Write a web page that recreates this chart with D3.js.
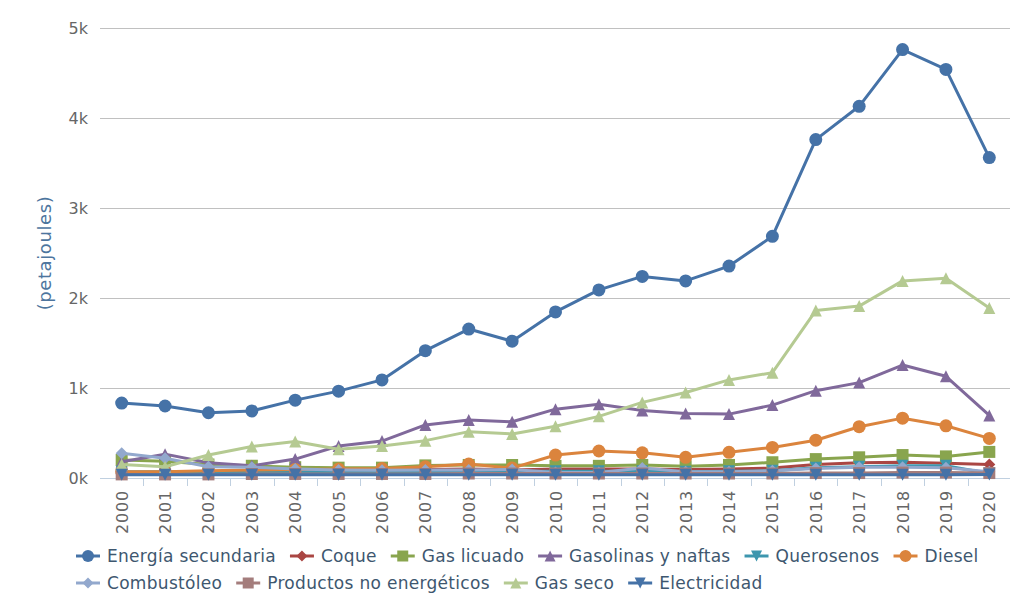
<!DOCTYPE html>
<html><head><meta charset="utf-8">
<script src="https://cdn.jsdelivr.net/npm/d3@7"></script>
<style>
html,body{margin:0;padding:0;background:#fff;}
svg{display:block;font-family:"DejaVu Sans",sans-serif;}
</style></head>
<body><svg id="c" width="1010" height="594"></svg>
<script>
const years = ["2000","2001","2002","2003","2004","2005","2006","2007","2008","2009","2010","2011","2012","2013","2014","2015","2016","2017","2018","2019","2020"];
const yTicks = [0,1000,2000,3000,4000,5000];
const yTickLabels = ["0k","1k","2k","3k","4k","5k"];
const yTitle = "(petajoules)";
const seriesNames = ["Energía secundaria","Coque","Gas licuado","Gasolinas y naftas","Querosenos","Diesel","Combustóleo","Productos no energéticos","Gas seco","Electricidad"];
const energiaSecundaria = [832,800,725,745,865,965,1090,1415,1655,1520,1845,2090,2240,2190,2355,2685,3760,4130,4760,4540,3560];
const coque = [50,50,60,85,90,90,90,95,100,90,100,100,100,95,100,110,150,170,175,165,150];
const gasLicuado = [200,185,150,135,120,115,115,140,145,145,135,135,145,130,145,175,210,230,255,240,290];
const gasolinas = [180,265,170,135,210,355,410,590,645,625,765,820,750,718,710,810,970,1060,1255,1130,695];
const querosenos = [70,70,70,70,70,70,70,70,75,75,75,75,75,70,75,80,115,125,135,135,50];
const diesel = [70,70,80,90,95,100,105,125,155,110,255,300,280,230,285,340,420,570,665,580,440];
const combustoleo = [275,220,125,120,100,90,85,90,90,95,60,60,110,70,70,80,105,120,120,115,70];
const productosNoEnergeticos = [40,40,40,45,45,45,45,45,50,50,50,50,50,50,50,50,55,55,60,60,55];
const gasSeco = [150,125,255,350,405,320,355,415,515,490,575,685,840,950,1090,1170,1860,1910,2190,2220,1890];
const electricidad = [35,35,35,35,35,35,35,35,35,35,35,35,35,35,35,35,35,35,35,35,40];
const seriesValues = [energiaSecundaria,coque,gasLicuado,gasolinas,querosenos,diesel,combustoleo,productosNoEnergeticos,gasSeco,electricidad];

const colors = ["#4572A7","#AA4643","#89A54E","#80699B","#3D96AE","#DB843D","#92A8CD","#A47D7C","#B5CA92","#4572A7"];
const symbols = ["circle","diamond","square","triangle","triangle-down","circle","diamond","square","triangle","triangle-down"];

const svg = d3.select("#c");
const L = 100, R = 1011, T = 28, B = 478;
const x = d3.scaleBand().domain(years).range([L, R]).padding(0);
const y = d3.scaleLinear().domain([0, 5000]).range([B, T]);

function sym(type, cx, cy, r) {
  if (type === "circle") return `M${cx - r},${cy}a${r},${r} 0 1,0 ${2*r},0a${r},${r} 0 1,0 ${-2*r},0Z`;
  if (type === "square") return `M${cx - r},${cy - r}h${2*r}v${2*r}h${-2*r}Z`;
  if (type === "diamond") return `M${cx},${cy - r}L${cx + r},${cy}L${cx},${cy + r}L${cx - r},${cy}Z`;
  if (type === "triangle") return `M${cx},${cy - r}L${cx + r},${cy + r}L${cx - r},${cy + r}Z`;
  return `M${cx - r},${cy - r}L${cx + r},${cy - r}L${cx},${cy + r}Z`;
}

// gridlines
svg.append("g").selectAll("line").data(yTicks.filter(d => d > 0)).join("line")
  .attr("x1", L).attr("x2", R - 1).attr("y1", d => Math.round(y(d)) + 0.5).attr("y2", d => Math.round(y(d)) + 0.5)
  .attr("stroke", "#C0C0C0").attr("stroke-width", 1);

// y labels
svg.append("g").selectAll("text").data(yTicks).join("text")
  .attr("x", 88).attr("y", d => y(d) + 6).attr("text-anchor", "end")
  .attr("fill", "#666").attr("font-size", 16).text((d, i) => yTickLabels[i]);

// y title
svg.append("text").attr("transform", `translate(51,${(T + B) / 2}) rotate(-90)`)
  .attr("text-anchor", "middle").attr("fill", "#4d759e").attr("font-size", 18)
  .attr("letter-spacing", 0.6).text(yTitle);

// x axis line and ticks
svg.append("line").attr("x1", L).attr("x2", R - 1).attr("y1", B + 0.5).attr("y2", B + 0.5)
  .attr("stroke", "#C0D0E0").attr("stroke-width", 1);
const bounds = years.slice(1).map(yr => x(yr));
svg.append("g").selectAll("line").data(bounds).join("line")
  .attr("x1", d => Math.round(d) + 0.5).attr("x2", d => Math.round(d) + 0.5).attr("y1", B).attr("y2", B + 8)
  .attr("stroke", "#C0D0E0").attr("stroke-width", 1);

// x labels
svg.append("g").selectAll("text").data(years).join("text")
  .attr("transform", d => `translate(${x(d) + x.bandwidth() / 2 + 6},490) rotate(-90)`)
  .attr("text-anchor", "end").attr("fill", "#666").attr("font-size", 16)
  .attr("letter-spacing", 0.8).text(d => d);

// series
const line = d3.line().x((d, i) => x(years[i]) + x.bandwidth() / 2).y(d => y(d));
seriesValues.forEach((vals, si) => {
  const g = svg.append("g");
  g.append("path").attr("d", line(vals)).attr("fill", "none").attr("stroke", colors[si])
    .attr("stroke-width", 3).attr("stroke-linejoin", "round");
  g.selectAll("path.m").data(vals).join("path").attr("class", "m")
    .attr("d", (d, i) => sym(symbols[si], x(years[i]) + x.bandwidth() / 2, y(d), symbols[si] === "circle" ? 6.5 : 6))
    .attr("fill", colors[si]);
});

// legend
const rows = [[0,1,2,3,4,5],[6,7,8,9]];
const rowY = [556, 583];
rows.forEach((row, ri) => {
  let cx = 76;
  row.forEach(si => {
    const g = svg.append("g");
    const cy = rowY[ri];
    g.append("line").attr("x1", cx).attr("x2", cx + 24).attr("y1", cy).attr("y2", cy)
      .attr("stroke", colors[si]).attr("stroke-width", 3);
    g.append("path").attr("d", sym(symbols[si], cx + 12, cy, symbols[si] === "circle" ? 6 : 5.5)).attr("fill", colors[si]);
    const t = g.append("text").attr("x", cx + 31).attr("y", cy + 6).attr("fill", "#3E576F")
      .attr("font-size", 17).attr("letter-spacing", 0.3).text(seriesNames[si]);
    const w = t.node().getComputedTextLength();
    cx = cx + 31 + w + 14;
  });
});
</script></body></html>
